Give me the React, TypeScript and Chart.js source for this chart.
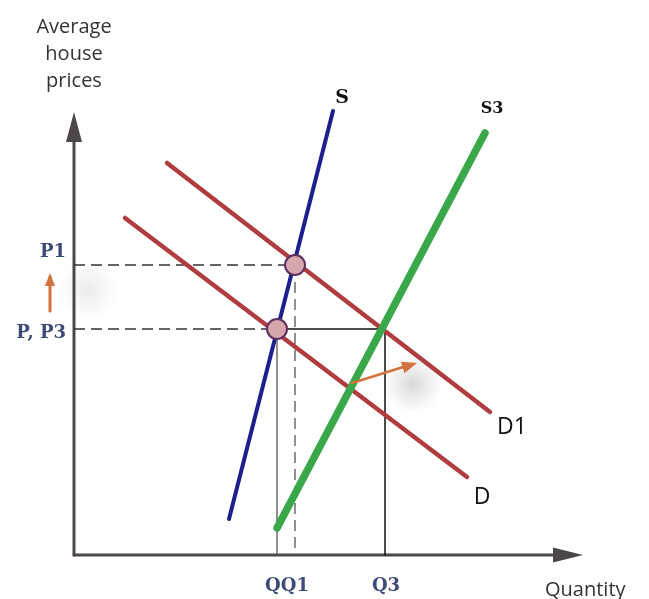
import { useEffect, useRef } from "react";
import { Chart, registerables } from "chart.js";

Chart.register(...registerables);

// ---- data (abstract quantity / price units) ----
const supplyS = [{ x: 31, y: 7.2 }, { x: 51.8, y: 88.8 }];
const supplyS3 = [{ x: 40.6, y: 5.4 }, { x: 82.2, y: 84.4 }];
const demandD = [{ x: 10.2, y: 67.4 }, { x: 78.6, y: 15.6 }];
const demandD1 = [{ x: 18.6, y: 78.4 }, { x: 83.2, y: 28.6 }];
const priceLevels = [58, 45.2]; // P1, P (=P3)
const priceLabels = ["P1", "P, P3"];
const quantityLevels = [40.6, 44.2, 62.2]; // Q, Q1, Q3
const quantityLabels = ["QQ1", "Q3"];
const curveLabels = ["S", "S3", "D", "D1"];
const axisEnds = { xTip: 101.8, xBase: 95.8, yTip: 88.6, yBase: 82.6 };
const priceArrow = [{ x: -4.8, y: 48.8 }, { x: -4.8, y: 55.6 }];
const shiftArrow = [{ x: 55.6, y: 34.4 }, { x: 67.8, y: 38.2 }];
const axisTitles = ["Average", "house", "prices", "Quantity"];

const [P1, P] = priceLevels;
const [Q, Q1, Q3] = quantityLevels;

function arrowHead(ctx: CanvasRenderingContext2D, x0: number, y0: number, x1: number, y1: number, len: number, half: number, color: string) {
  const a = Math.atan2(y1 - y0, x1 - x0);
  const bx = x1 - Math.cos(a) * len;
  const by = y1 - Math.sin(a) * len;
  ctx.save();
  ctx.fillStyle = color;
  ctx.beginPath();
  ctx.moveTo(x1, y1);
  ctx.lineTo(bx + Math.sin(a) * half, by - Math.cos(a) * half);
  ctx.lineTo(bx - Math.sin(a) * half, by + Math.cos(a) * half);
  ctx.closePath();
  ctx.fill();
  ctx.restore();
}

const diagramPlugin = {
  id: "diagram",
  beforeDatasetsDraw(chart: any) {
    const ctx = chart.ctx as CanvasRenderingContext2D;
    const xs = chart.scales.x, ys = chart.scales.y;
    const blob = (cx: number, cy: number, r: number, a: number) => {
      const g = ctx.createRadialGradient(cx, cy, 0, cx, cy, r);
      g.addColorStop(0, `rgba(150,150,150,${a})`);
      g.addColorStop(1, "rgba(150,150,150,0)");
      ctx.fillStyle = g;
      ctx.beginPath();
      ctx.arc(cx, cy, r, 0, Math.PI * 2);
      ctx.fill();
    };
    ctx.save();
    blob(xs.getPixelForValue(shiftArrow[1].x), ys.getPixelForValue(shiftArrow[1].y) + 20, 30, 0.35);
    blob(xs.getPixelForValue(priceArrow[0].x) + 38, ys.getPixelForValue((priceArrow[0].y + priceArrow[1].y) / 2) - 4, 30, 0.18);
    ctx.restore();
  },
  afterDatasetsDraw(chart: any) {
    const ctx = chart.ctx as CanvasRenderingContext2D;
    const xs = chart.scales.x, ys = chart.scales.y;
    const px = (v: number) => xs.getPixelForValue(v);
    const py = (v: number) => ys.getPixelForValue(v);
    const axisColor = "#4d474b";
    // axis arrow heads
    arrowHead(ctx, px(0), py(axisEnds.yBase), px(0), py(axisEnds.yTip), 30, 8, axisColor);
    arrowHead(ctx, px(axisEnds.xBase), py(0), px(axisEnds.xTip), py(0), 30, 7.5, axisColor);
    // orange arrows
    const orange = "#d2723c";
    arrowHead(ctx, px(priceArrow[0].x), py(priceArrow[0].y), px(priceArrow[1].x), py(priceArrow[1].y) - 4, 13, 5, orange);
    arrowHead(ctx, px(shiftArrow[0].x), py(shiftArrow[0].y), px(shiftArrow[1].x) + 4, py(shiftArrow[1].y) - 1, 15, 6, orange);

    ctx.save();
    ctx.textBaseline = "alphabetic";
    // y axis title
    ctx.fillStyle = "#333333";
    ctx.font = "20px 'Open Sans', sans-serif";
    ctx.textAlign = "center";
    ctx.fillText(axisTitles[0], px(0), 33);
    ctx.fillText(axisTitles[1], px(0), 60);
    ctx.fillText(axisTitles[2], px(0), 87);
    // x axis title
    ctx.textAlign = "left";
    ctx.fillText(axisTitles[3], px(axisEnds.xTip) - 38, py(0) + 41);
    // price / quantity labels
    ctx.fillStyle = "#3d4a78";
    ctx.font = "bold 18px 'DejaVu Serif', serif";
    ctx.textAlign = "right";
    ctx.fillText(priceLabels[0], px(0) - 8, py(P1) - 8);
    ctx.fillText(priceLabels[1], px(0) - 8, py(P) + 9);
    ctx.textAlign = "center";
    ctx.fillText(quantityLabels[0], (px(Q) + px(Q1)) / 2 + 1, py(0) + 36);
    ctx.fillText(quantityLabels[1], px(Q3) + 1, py(0) + 36);
    // curve labels
    ctx.fillStyle = "#111111";
    ctx.font = "bold 19px 'DejaVu Serif', serif";
    ctx.fillText(curveLabels[0], px(supplyS[1].x) + 9, py(supplyS[1].y) - 8);
    ctx.font = "bold 16px 'DejaVu Serif', serif";
    ctx.fillText(curveLabels[1], px(supplyS3[1].x) + 7, py(supplyS3[1].y) - 20);
    ctx.font = "23px 'Open Sans', sans-serif";
    ctx.fillText(curveLabels[2], px(demandD[1].x) + 15, py(demandD[1].y) + 27);
    ctx.fillText(curveLabels[3], px(demandD1[1].x) + 22, py(demandD1[1].y) + 22);
    ctx.restore();
  },
};

export default function App() {
  const ref = useRef<HTMLCanvasElement | null>(null);
  useEffect(() => {
    document.body.style.margin = "0";
    if (!ref.current) return;
    const line = (data: any[], color: string, width: number, order: number, dash: number[] = []) => ({
      type: "line" as const,
      data,
      showLine: true,
      borderColor: color,
      borderWidth: width,
      borderDash: dash,
      borderCapStyle: dash.length ? "butt" : "round",
      pointRadius: 0,
      fill: false,
      order,
    });
    const axisColor = "#4d474b";
    const chart = new Chart(ref.current, {
      type: "scatter",
      data: {
        datasets: [
          line([{ x: 0, y: 0 }, { x: 0, y: axisEnds.yBase + 1 }], axisColor, 3, 20),
          line([{ x: 0, y: 0 }, { x: axisEnds.xBase + 1, y: 0 }], axisColor, 3, 20),
          line([{ x: 0, y: P1 }, { x: Q1, y: P1 }], "#333333", 1.3, 18, [11, 6]),
          line([{ x: Q1, y: P1 }, { x: Q1, y: 0 }], "#555555", 1.3, 18, [11, 6]),
          line([{ x: 0, y: P }, { x: Q, y: P }], "#333333", 1.3, 18, [11, 6]),
          line([{ x: Q, y: P }, { x: Q, y: 0 }], "#555555", 1.3, 18),
          line([{ x: Q, y: P }, { x: Q3, y: P }], "#111111", 1.5, 18),
          line([{ x: Q3, y: P }, { x: Q3, y: 0 }], "#111111", 1.5, 18),
          line(demandD, "#b03c40", 4.5, 10),
          line(demandD1, "#b03c40", 4.5, 10),
          line(supplyS, "#1c1f8c", 4, 8),
          line(supplyS3, "#3aa84a", 7.5, 6),
          line(priceArrow, "#d2723c", 3, 5),
          line(shiftArrow, "#d2723c", 2.5, 5),
          {
            type: "scatter" as const,
            data: [{ x: Q1, y: P1 }, { x: Q, y: P }],
            pointRadius: 10,
            pointBackgroundColor: "#d6a6ad",
            pointBorderColor: "#5c2f5f",
            pointBorderWidth: 2,
            showLine: false,
            order: 1,
          },
        ] as any,
      },
      options: {
        animation: false,
        responsive: false,
        maintainAspectRatio: false,
        layout: { padding: 0, autoPadding: false },
        plugins: { legend: { display: false }, tooltip: { enabled: false } },
        events: [],
        scales: {
          x: { type: "linear", min: -14.8, max: 115, display: false },
          y: { type: "linear", min: -8.8, max: 111, display: false },
        },
      },
      plugins: [diagramPlugin],
    });
    return () => chart.destroy();
  }, []);
  return (
    <div style={{ width: 649, height: 599, background: "#ffffff" }}>
      <canvas ref={ref} width={649} height={599} style={{ display: "block" }} />
    </div>
  );
}
